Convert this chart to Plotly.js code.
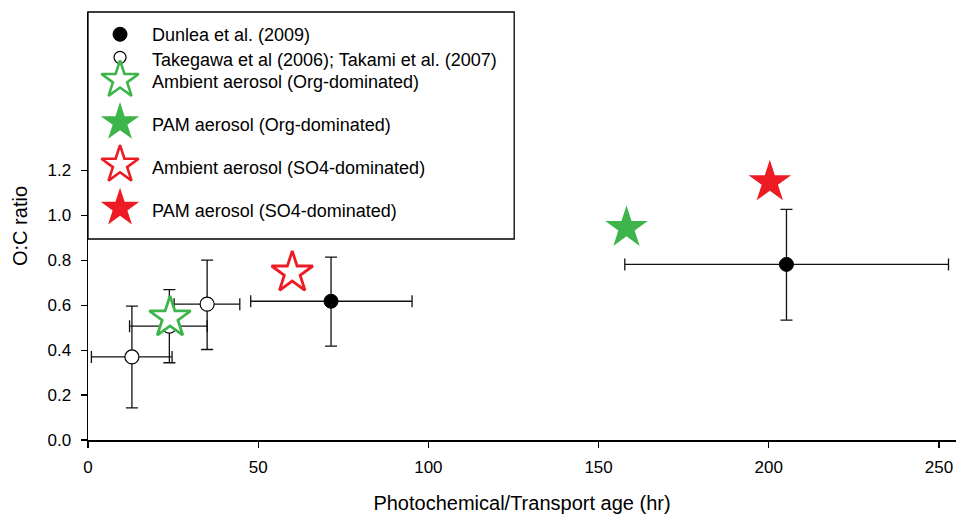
<!DOCTYPE html>
<html>
<head>
<meta charset="utf-8">
<script src="https://cdn.plot.ly/plotly-3.0.1.min.js"></script>
<style>html,body{margin:0;padding:0;background:#fff;}#chart{width:957px;height:517px;}</style>
</head>
<body>
<div id="chart"></div>
<script>
// Dunlea et al. (2009)
const dunleaX = [71.4, 205.2];
const dunleaY = [0.618, 0.782];
const dunleaXlo = [47.8, 157.7];
const dunleaXhi = [95.2, 252.8];
const dunleaYlo = [0.418, 0.534];
const dunleaYhi = [0.814, 1.027];

// Takegawa et al (2006); Takami et al. (2007)
const takX = [12.9, 23.9, 35.0];
const takY = [0.370, 0.507, 0.605];
const takXlo = [1.0, 12.2, 25.3];
const takXhi = [24.7, 35.0, 44.6];
const takYlo = [0.143, 0.344, 0.403];
const takYhi = [0.596, 0.670, 0.801];

// Stars
const ambOrgX = [24.1];  const ambOrgY = [0.545];
const pamOrgX = [158.2]; const pamOrgY = [0.945];
const ambSO4X = [60.0];  const ambSO4Y = [0.745];
const pamSO4X = [200.3]; const pamSO4Y = [1.148];

const legendNames = [
  "Dunlea et al. (2009)",
  "Takegawa et al (2006); Takami et al. (2007)",
  "Ambient aerosol (Org-dominated)",
  "PAM aerosol (Org-dominated)",
  "Ambient aerosol (SO4-dominated)",
  "PAM aerosol (SO4-dominated)"
];

const xTickVals = [0, 50, 100, 150, 200, 250];
const yTickVals = [0, 0.2, 0.4, 0.6, 0.8, 1.0, 1.2];

const GREEN = '#3db54a';
const RED = '#ed1c24';
const FAMILY = 'Liberation Sans, Arial, sans-serif';

const sub = (a, b) => a.map((v, i) => v - b[i]);

function errs(x, y, xlo, xhi, ylo, yhi) {
  return {
    error_x: {type: 'data', symmetric: false, array: sub(xhi, x), arrayminus: sub(x, xlo),
              color: '#111', thickness: 1.3, width: 6},
    error_y: {type: 'data', symmetric: false, array: sub(yhi, y), arrayminus: sub(y, ylo),
              color: '#111', thickness: 1.3, width: 6}
  };
}

const traces = [
  Object.assign({
    x: dunleaX, y: dunleaY, type: 'scatter', mode: 'markers', name: legendNames[0],
    marker: {symbol: 'circle', size: 14, color: '#000', opacity: 1, line: {color: '#000', width: 1}}
  }, errs(dunleaX, dunleaY, dunleaXlo, dunleaXhi, dunleaYlo, dunleaYhi)),
  Object.assign({
    x: takX, y: takY, type: 'scatter', mode: 'markers', name: legendNames[1],
    marker: {symbol: 'circle', size: 14, color: '#fff', opacity: 1, line: {color: '#000', width: 1.2}}
  }, errs(takX, takY, takXlo, takXhi, takYlo, takYhi)),
  {x: ambOrgX, y: ambOrgY, type: 'scatter', mode: 'markers', name: legendNames[2],
   marker: {symbol: 'star', size: 31, color: '#fff', opacity: 1, line: {color: GREEN, width: 2.8}}},
  {x: pamOrgX, y: pamOrgY, type: 'scatter', mode: 'markers', name: legendNames[3],
   marker: {symbol: 'star', size: 32, color: GREEN, opacity: 1, line: {color: GREEN, width: 0}}},
  {x: ambSO4X, y: ambSO4Y, type: 'scatter', mode: 'markers', name: legendNames[4],
   marker: {symbol: 'star', size: 31, color: '#fff', opacity: 1, line: {color: RED, width: 2.8}}},
  {x: pamSO4X, y: pamSO4Y, type: 'scatter', mode: 'markers', name: legendNames[5],
   marker: {symbol: 'star', size: 32, color: RED, opacity: 1, line: {color: RED, width: 0}}}
];

// Custom legend (drawn in paper-like overlay axes)
const legMarkX = 0.0369;
const legTextX = 0.0715;
const legRowY = [0.948, 0.894, 0.841, 0.742, 0.643, 0.542];
const legTextY = [0.946, 0.888, 0.837, 0.736, 0.635, 0.535];
traces.push({
  x: legRowY.map(() => legMarkX), y: legRowY, xaxis: 'x2', yaxis: 'y2',
  type: 'scatter', mode: 'markers', hoverinfo: 'skip', showlegend: false,
  marker: {
    symbol: ['circle', 'circle', 'star', 'star', 'star', 'star'],
    size: [14, 12, 28, 29, 28, 29],
    opacity: 1,
    color: ['#000', '#fff', '#fff', GREEN, '#fff', RED],
    line: {color: ['#000', '#000', GREEN, GREEN, RED, RED], width: [1, 1.2, 2.6, 0, 2.6, 0]}
  }
});

const annotations = legendNames.map((t, i) => ({
  text: t, xref: 'paper', yref: 'paper', x: legTextX, y: legTextY[i],
  xanchor: 'left', yanchor: 'middle', align: 'left', showarrow: false,
  font: {family: FAMILY, size: 18, color: '#000'}
}));

const tickFont = {family: FAMILY, size: 17, color: '#000'};
const titleFont = {family: FAMILY, size: 20, color: '#000'};
const layout = {
  width: 957, height: 517,
  margin: {l: 88, r: 1, t: 12, b: 77},
  paper_bgcolor: '#fff', plot_bgcolor: '#fff',
  showlegend: false,
  font: tickFont,
  xaxis: {
    range: [0, 255], tickvals: xTickVals, ticks: 'outside', ticklen: 6, tickwidth: 1.3,
    tickcolor: '#000', showline: true, linecolor: '#000', linewidth: 1.5,
    showgrid: false, zeroline: false, tickfont: tickFont, ticklabelstandoff: 5,
    title: {text: 'Photochemical/Transport age (hr)', font: titleFont, standoff: 20}
  },
  yaxis: {
    range: [0, 1.906], tickvals: yTickVals, tickformat: '.1f', ticks: 'outside', ticklen: 6, tickwidth: 1.3,
    tickcolor: '#000', showline: true, linecolor: '#000', linewidth: 1.5,
    showgrid: false, zeroline: false, tickfont: tickFont, ticklabelstandoff: 6,
    title: {text: 'O:C ratio', font: titleFont, standoff: 14}
  },
  xaxis2: {overlaying: 'x', range: [0, 1], visible: false, fixedrange: true},
  yaxis2: {overlaying: 'y', range: [0, 1], visible: false, fixedrange: true},
  shapes: [{
    type: 'rect', xref: 'paper', yref: 'paper', x0: 0, x1: 0.491, y0: 0.4696, y1: 1,
    line: {color: '#000', width: 1.3}, fillcolor: '#fff', layer: 'below'
  }],
  annotations: annotations
};

Plotly.newPlot('chart', traces, layout, {displayModeBar: false, staticPlot: true});
</script>
</body>
</html>
